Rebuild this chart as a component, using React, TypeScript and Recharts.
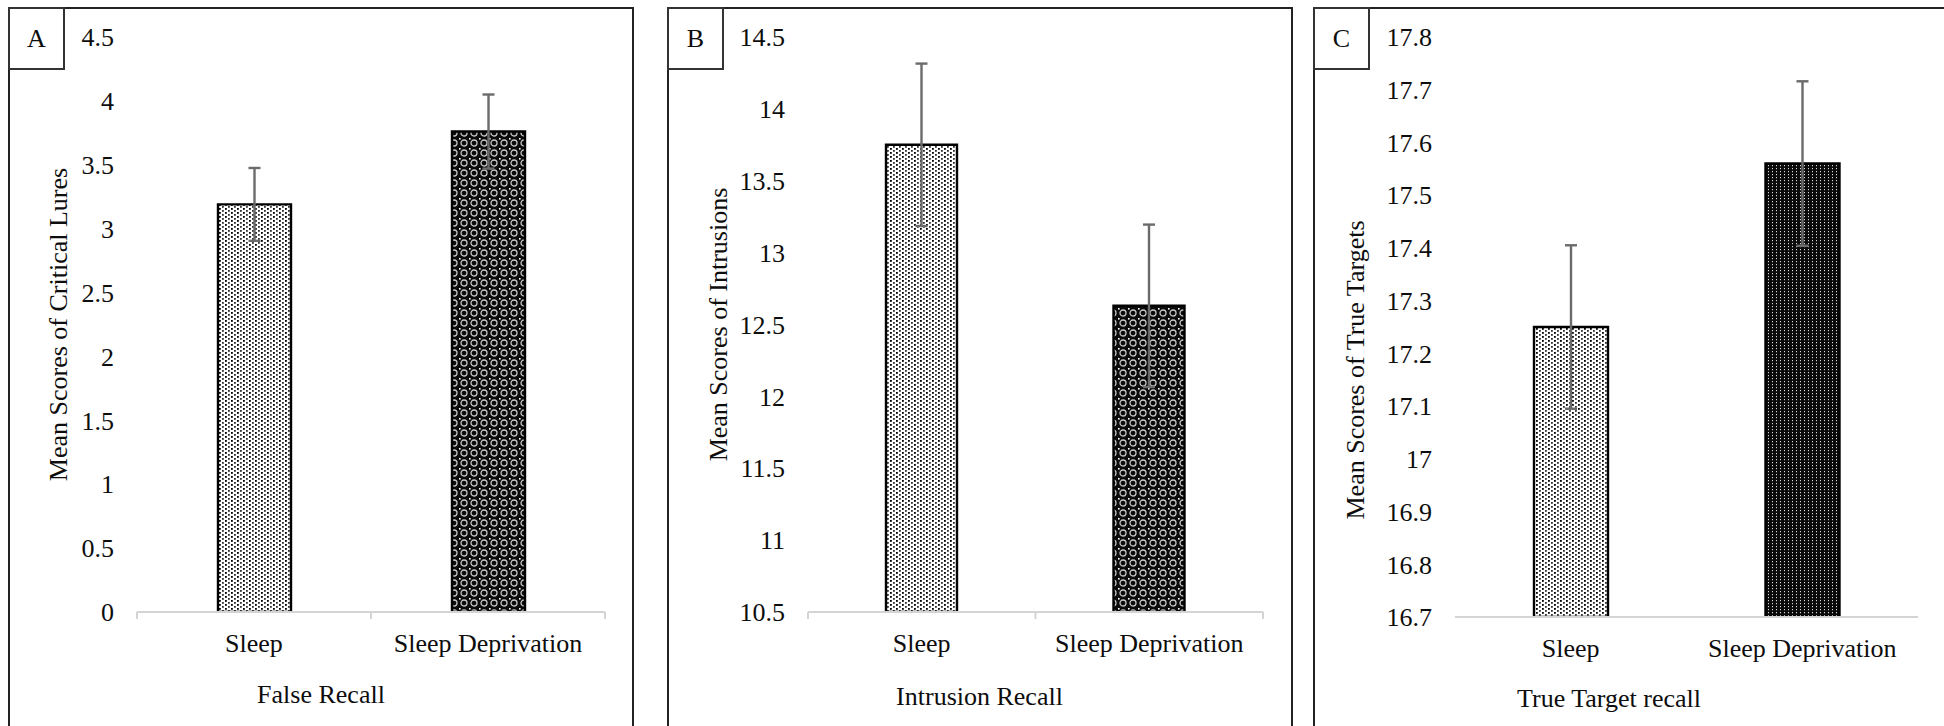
import React from "react";
import { BarChart, Bar, XAxis, YAxis, ErrorBar, Cell, Label } from "recharts";

// ---------- data ----------
const categories = ["Sleep", "Sleep Deprivation"];

const falseRecallMeans = [3.19, 3.76];
const falseRecallErrors = [0.285, 0.29];
const falseRecallTicks = [0, 0.5, 1, 1.5, 2, 2.5, 3, 3.5, 4, 4.5];

const intrusionMeans = [13.75, 12.63];
const intrusionErrors = [0.565, 0.565];
const intrusionTicks = [10.5, 11, 11.5, 12, 12.5, 13, 13.5, 14, 14.5];

const trueTargetMeans = [17.25, 17.56];
const trueTargetErrors = [0.155, 0.156];
const trueTargetTicks = [16.7, 16.8, 16.9, 17, 17.1, 17.2, 17.3, 17.4, 17.5, 17.6, 17.7, 17.8];

const panelLetters = ["A", "B", "C"];
const yTitles = [
  "Mean Scores of Critical Lures",
  "Mean Scores of Intrusions",
  "Mean Scores of True Targets",
];
const xTitles = ["False Recall", "Intrusion Recall", "True Target recall"];

// ---------- style ----------
const FONT = "'Liberation Serif', 'Times New Roman', Times, serif";
const TEXT = "#0d0d0d";
const AXIS_GRAY = "#d4d4d4";

type PanelCfg = {
  id: string;
  means: number[];
  errors: number[];
  ticks: number[];
  left: number;
  width: number;
  yAxisWidth: number;
  rightMargin: number;
  xAxisHeight: number;
  barSize: number;
  fills: string[];
  yLabelX: number;
  yLabelDy: number;
  xTitleX: number;
  xTitleY: number;
  edgeTicks: boolean;
};

const Patterns = ({ id }: { id: string }) => (
  <defs>
    <pattern id={`dots-${id}`} width="6" height="4" patternUnits="userSpaceOnUse">
      <rect width="6" height="4" fill="#ffffff" />
      <rect x="0" y="0" width="1.8" height="1.8" fill="#000" />
      <rect x="3" y="2" width="1.8" height="1.8" fill="#333" />
    </pattern>
    <pattern id={`lattice-${id}`} width="10" height="10" patternUnits="userSpaceOnUse">
      <rect width="10" height="10" fill="#0a0a0a" />
      <circle cx="5" cy="5" r="3" fill="none" stroke="#c8c8c8" strokeWidth="1.3" />
      <rect x="0" y="0" width="1.6" height="1.6" fill="#ffffff" />
    </pattern>
    <pattern id={`vstripe-${id}`} width="4" height="3" patternUnits="userSpaceOnUse">
      <rect width="4" height="3" fill="#0a0a0a" />
      <rect x="2" y="1" width="1" height="1.2" fill="#d8d8d8" />
    </pattern>
  </defs>
);

const makeXTick = (edgeTicks: boolean) => (props: any) => {
  const { x, y, payload, index, visibleTicksCount } = props;
  const off: number = payload && typeof payload.offset === "number" ? payload.offset : 0;
  const showLeft = edgeTicks && off > 0;
  const showRight = edgeTicks && off > 0 && index === visibleTicksCount - 1;
  return (
    <g>
      {showLeft ? (
        <line x1={x - off} x2={x - off} y1={y} y2={y + 7} stroke={AXIS_GRAY} strokeWidth={2} />
      ) : null}
      {showRight ? (
        <line x1={x + off} x2={x + off} y1={y} y2={y + 7} stroke={AXIS_GRAY} strokeWidth={2} />
      ) : null}
      <text x={x} y={y + 40} textAnchor="middle" fontSize={26} fill={TEXT} fontFamily={FONT}>
        {payload.value}
      </text>
    </g>
  );
};

const Panel = ({ cfg, index }: { cfg: PanelCfg; index: number }) => {
  const data = categories.map((c, i) => ({ name: c, mean: cfg.means[i], err: cfg.errors[i] }));
  const domain: [number, number] = [cfg.ticks[0], cfg.ticks[cfg.ticks.length - 1]];
  return (
    <div style={{ position: "absolute", left: cfg.left, top: 8 }}>
      <BarChart
        width={cfg.width}
        height={718}
        data={data}
        margin={{ top: 29, right: cfg.rightMargin, bottom: 0, left: 0 }}
      >
        <Patterns id={cfg.id} />
        <XAxis
          dataKey="name"
          height={cfg.xAxisHeight}
          axisLine={{ stroke: AXIS_GRAY, strokeWidth: 2 }}
          tickLine={false}
          tickSize={0}
          tickMargin={0}
          interval={0}
          tick={makeXTick(cfg.edgeTicks)}
        >
          <Label
            content={() => (
              <text
                x={cfg.xTitleX}
                y={cfg.xTitleY}
                textAnchor="middle"
                fontSize={26}
                fill={TEXT}
                fontFamily={FONT}
              >
                {xTitles[index]}
              </text>
            )}
          />
        </XAxis>
        <YAxis
          type="number"
          domain={domain}
          ticks={cfg.ticks}
          allowDataOverflow
          interval={0}
          width={cfg.yAxisWidth}
          axisLine={false}
          tickLine={false}
          tickSize={0}
          tickMargin={23}
          tick={{ fontSize: 26, fill: TEXT, fontFamily: FONT }}
        >
          <Label
            content={(p: any) => {
              const vb = p.viewBox || { x: 0, y: 0, width: 0, height: 0 };
              const cy = vb.y + vb.height / 2 + cfg.yLabelDy;
              const cx = cfg.yLabelX;
              return (
                <text
                  x={cx}
                  y={cy}
                  dy="0.35em"
                  transform={`rotate(-90, ${cx}, ${cy})`}
                  textAnchor="middle"
                  fontSize={26}
                  fill={TEXT}
                  fontFamily={FONT}
                >
                  {yTitles[index]}
                </text>
              );
            }}
          />
        </YAxis>
        <Bar
          dataKey="mean"
          barSize={cfg.barSize}
          stroke="#000"
          strokeWidth={2.4}
          isAnimationActive={false}
        >
          {data.map((d, i) => (
            <Cell key={d.name} fill={cfg.fills[i]} />
          ))}
          <ErrorBar
            dataKey="err"
            width={6}
            stroke="#6b6b6b"
            strokeWidth={2.4}
            isAnimationActive={false}
          />
        </Bar>
      </BarChart>
    </div>
  );
};

const panels: PanelCfg[] = [
  {
    id: "a",
    means: falseRecallMeans,
    errors: falseRecallErrors,
    ticks: falseRecallTicks,
    left: 9,
    width: 624,
    yAxisWidth: 128,
    rightMargin: 28,
    xAxisHeight: 114,
    barSize: 73,
    fills: ["url(#dots-a)", "url(#lattice-a)"],
    yLabelX: 48.7,
    yLabelDy: 0,
    xTitleX: 312,
    xTitleY: 695,
    edgeTicks: true,
  },
  {
    id: "b",
    means: intrusionMeans,
    errors: intrusionErrors,
    ticks: intrusionTicks,
    left: 668,
    width: 623,
    yAxisWidth: 140,
    rightMargin: 28,
    xAxisHeight: 114,
    barSize: 71,
    fills: ["url(#dots-b)", "url(#lattice-b)"],
    yLabelX: 49.7,
    yLabelDy: 0,
    xTitleX: 311.5,
    xTitleY: 697,
    edgeTicks: true,
  },
  {
    id: "c",
    means: trueTargetMeans,
    errors: trueTargetErrors,
    ticks: trueTargetTicks,
    left: 1314,
    width: 630,
    yAxisWidth: 141,
    rightMargin: 26,
    xAxisHeight: 109,
    barSize: 74,
    fills: ["url(#dots-c)", "url(#vstripe-c)"],
    yLabelX: 41,
    yLabelDy: 43,
    xTitleX: 295,
    xTitleY: 699,
    edgeTicks: false,
  },
];

const frames = [
  { left: 8, width: 626 },
  { left: 667, width: 626 },
  { left: 1313, width: 700 },
];

export default function App() {
  return (
    <div
      style={{
        position: "fixed",
        left: 0,
        top: 0,
        width: 1944,
        height: 726,
        overflow: "hidden",
        background: "#fff",
        fontFamily: FONT,
      }}
    >
      {frames.map((f, i) => (
        <div
          key={"f" + i}
          style={{
            position: "absolute",
            left: f.left,
            top: 7,
            width: f.width,
            height: 800,
            border: "2px solid #222",
            boxSizing: "border-box",
          }}
        />
      ))}
      {panels.map((cfg, i) => (
        <Panel key={cfg.id} cfg={cfg} index={i} />
      ))}
      {frames.map((f, i) => (
        <div
          key={"l" + i}
          style={{
            position: "absolute",
            left: f.left,
            top: 7,
            width: 57,
            height: 63,
            border: "2px solid #333",
            boxSizing: "border-box",
            background: "#fff",
            display: "flex",
            alignItems: "center",
            justifyContent: "center",
            fontSize: 26,
            color: TEXT,
          }}
        >
          {panelLetters[i]}
        </div>
      ))}
    </div>
  );
}
